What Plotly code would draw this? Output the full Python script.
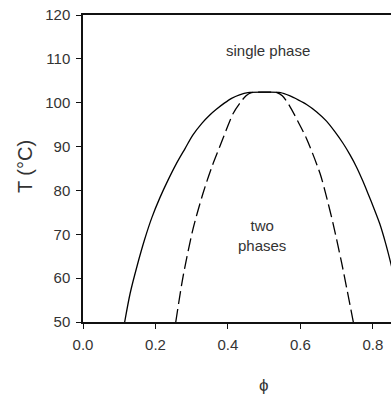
import plotly.graph_objects as go

# Binodal (solid) curve
binodal_phi = [0.115, 0.130, 0.150, 0.170, 0.190, 0.212, 0.235, 0.257, 0.282, 0.303,
               0.328, 0.350, 0.368, 0.390, 0.410, 0.432, 0.455, 0.500,
               0.545, 0.570, 0.595, 0.617, 0.645, 0.672, 0.695, 0.718, 0.737,
               0.755, 0.772, 0.787, 0.803, 0.819, 0.835, 0.850, 0.868, 0.885]
binodal_T = [50.0, 56.5, 63.0, 68.8, 73.8, 78.3, 82.4, 86.0, 89.6, 92.6,
             95.3, 97.2, 98.5, 99.9, 101.0, 101.8, 102.3, 102.4,
             102.3, 101.6, 100.6, 99.6, 97.9, 95.8, 93.4, 90.7, 88.1,
             85.3, 82.2, 79.2, 75.9, 72.4, 68.0, 63.2, 56.8, 50.0]

# Spinodal (dashed) curve
spinodal_phi = [0.256, 0.276, 0.303, 0.331, 0.354, 0.377, 0.395, 0.414, 0.432, 0.450,
                0.465, 0.500, 0.535, 0.550, 0.570, 0.594, 0.617, 0.654, 0.669,
                0.690, 0.714, 0.746]
spinodal_T = [50.0, 60.3, 71.0, 79.3, 85.0, 89.9, 93.7, 97.5, 99.8, 101.6,
              102.3, 102.4, 102.3, 101.6, 99.3, 95.6, 91.8, 83.9, 79.5,
              72.5, 63.4, 50.0]

x_ticks = [0.0, 0.2, 0.4, 0.6, 0.8]
y_ticks = [50, 60, 70, 80, 90, 100, 110, 120]

FONT = "Liberation Sans, Arial, sans-serif"
TXT = "#333333"

fig = go.Figure()
fig.add_trace(go.Scatter(x=binodal_phi, y=binodal_T, mode="lines",
                         line=dict(color="black", width=1.3, shape="spline", smoothing=0.8),
                         showlegend=False, hoverinfo="skip"))
fig.add_trace(go.Scatter(x=spinodal_phi, y=spinodal_T, mode="lines",
                         line=dict(color="black", width=1.3, shape="spline", smoothing=0.8,
                                   dash="13px,5px"),
                         showlegend=False, hoverinfo="skip"))

fig.update_layout(
    width=391, height=402,
    margin=dict(l=83, r=0, t=15, b=80),
    plot_bgcolor="white", paper_bgcolor="white",
    font=dict(family=FONT, color=TXT, size=15),
    xaxis=dict(range=[0, 0.85], tickvals=x_ticks, tickformat=".1f",
               showline=True, linecolor="#111", linewidth=1.5, mirror=True,
               ticks="outside", ticklen=5, tickcolor="#111", tickwidth=1.3,
               showgrid=False, zeroline=False, ticklabelstandoff=3,
               tickfont=dict(size=15, color=TXT)),
    yaxis=dict(range=[50, 120], tickvals=y_ticks,
               showline=True, linecolor="#111", linewidth=1.5, mirror=False,
               ticks="outside", ticklen=5, tickcolor="#111", tickwidth=1.3,
               showgrid=False, zeroline=False, ticklabelstandoff=3,
               tickfont=dict(size=15, color=TXT)),
)

fig.add_annotation(x=0.51, y=111.8, xref="x", yref="y", text="single phase",
                   showarrow=False, font=dict(size=15, color=TXT, family=FONT))
fig.add_annotation(x=0.493, y=69.8, xref="x", yref="y", text="two<br>phases",
                   showarrow=False, font=dict(size=15, color=TXT, family=FONT))
fig.add_annotation(x=0.5, y=-0.208, xref="x", yref="paper", text="ϕ",
                   xanchor="center", yanchor="middle",
                   showarrow=False, font=dict(size=17, color=TXT, family=FONT))
fig.add_annotation(x=-0.188, y=0.505, xref="paper", yref="paper", text="T (°C)",
                   xanchor="center", yanchor="middle",
                   textangle=-90, showarrow=False,
                   font=dict(size=20, color=TXT, family=FONT))

fig.write_html("out.html", config={"displayModeBar": False},
               post_script="document.body.style.margin='0px';")
